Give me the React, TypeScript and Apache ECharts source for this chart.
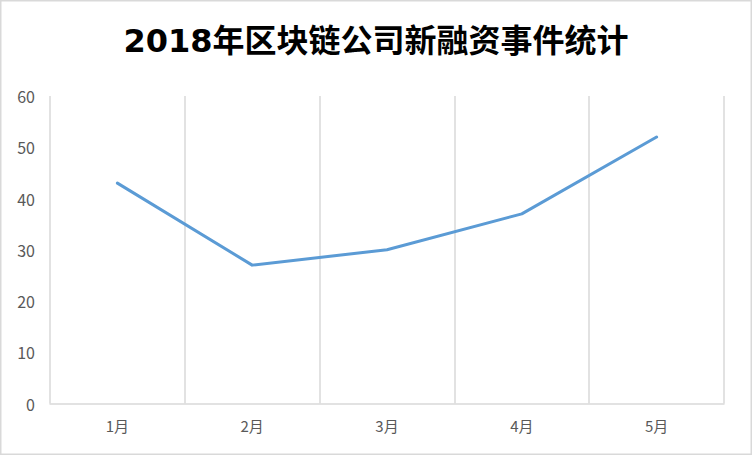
import React, { useEffect, useRef } from "react";
import * as echarts from "echarts";

const titleText = "2018年区块链公司新融资事件统计";
const categories = ["1月", "2月", "3月", "4月", "5月"];
const values = [43, 27, 30, 37, 52];
const yMin = 0;
const yMax = 60;
const yInterval = 10;

export default function App() {
  const ref = useRef<HTMLDivElement>(null);
  useEffect(() => {
    document.body.style.margin = "0";
    const chart = echarts.init(ref.current!, null, { renderer: "svg" });
    chart.setOption({
      animation: false,
      backgroundColor: "#ffffff",
      title: {
        text: titleText,
        left: "center",
        top: 20,
        textStyle: {
          fontFamily: "'DejaVu Sans', 'Noto Sans CJK SC'",
          fontWeight: "bold",
          fontSize: 32,
          color: "#000000",
        },
      },
      graphic: [
        {
          type: "rect",
          shape: { x: 0.75, y: 0.75, width: 750.5, height: 453.5 },
          style: { fill: "none", stroke: "#d9d9d9", lineWidth: 1.5 },
          silent: true,
        },
      ],
      grid: { left: 50, right: 28, top: 96, bottom: 51.5, containLabel: false },
      xAxis: {
        type: "category",
        data: categories,
        boundaryGap: true,
        axisLine: { show: true, lineStyle: { color: "#d9d9d9", width: 1.5 } },
        axisTick: { show: false },
        splitLine: { show: true, interval: 0, lineStyle: { color: "#d9d9d9", width: 1.5 } },
        axisLabel: {
          color: "#595959",
          fontSize: 15,
          margin: 14,
          fontFamily: "Noto Sans CJK SC",
        },
      },
      yAxis: {
        type: "value",
        min: yMin,
        max: yMax,
        interval: yInterval,
        axisLine: { show: false },
        axisTick: { show: false },
        splitLine: { show: false },
        axisLabel: {
          color: "#595959",
          fontSize: 16,
          margin: 15,
          fontFamily: "Noto Sans CJK SC",
        },
      },
      series: [
        {
          type: "line",
          data: values,
          symbol: "none",
          lineStyle: { color: "#5b9bd5", width: 3, cap: "round", join: "round" },
        },
      ],
    });
    return () => chart.dispose();
  }, []);
  return <div ref={ref} style={{ width: 752, height: 455 }} />;
}
